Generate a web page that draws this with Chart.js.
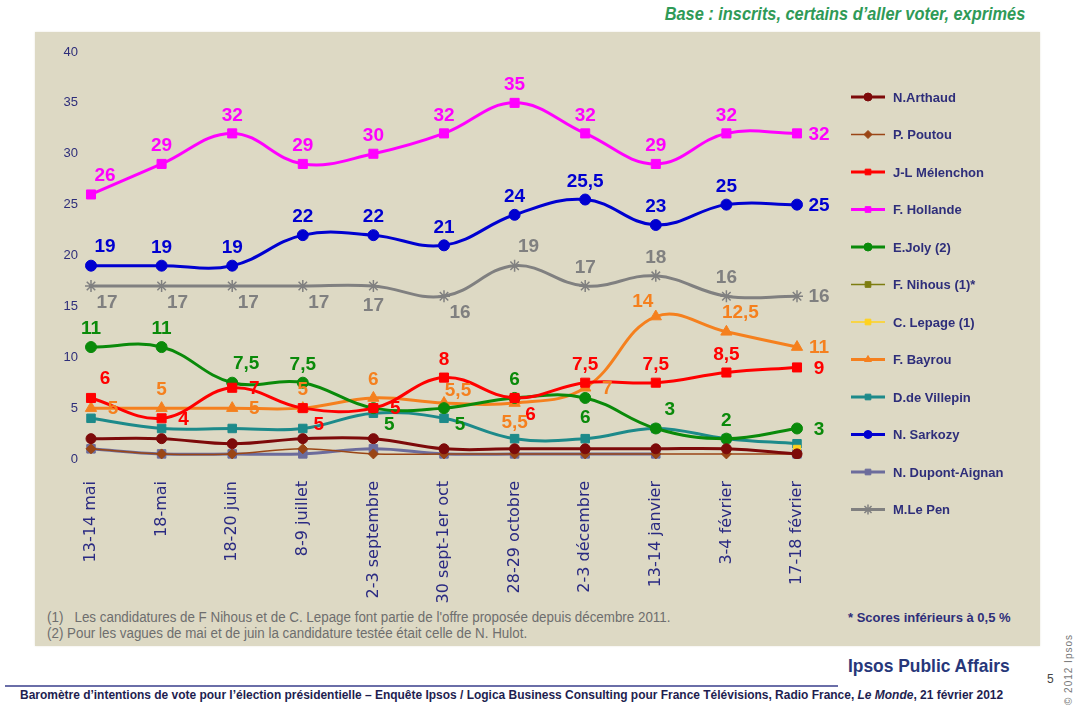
<!DOCTYPE html>
<html>
<head>
<meta charset="utf-8">
<script src="https://cdn.jsdelivr.net/npm/chart.js@4.4.1/dist/chart.umd.min.js"></script>
<style>
  body { margin:0; width:1079px; height:725px; overflow:hidden; background:#fff; font-family:"Liberation Sans", Arial, sans-serif; }
  #panel { position:absolute; left:35px; top:32px; width:1005px; height:614px; background:#ddd9c4; box-shadow:0 0 2px #e8e6dc; }
  #wrap { position:absolute; left:0; top:0; width:1079px; height:725px; }
  .abs { position:absolute; white-space:nowrap; }
  #base { right:54px; top:3px; color:#2f9a57; font:italic bold 19px "Liberation Sans",sans-serif; transform:scaleX(0.86); transform-origin:right center; }
  .note { left:47px; color:#6e6e6e; font:14px "Liberation Sans",sans-serif; transform:scaleX(0.955); transform-origin:left center; }
  #scores { left:848px; top:610px; color:#2e2e7a; font:bold 13px "Liberation Sans",sans-serif; }
  #ipsos { left:848px; top:655px; color:#27377a; font:bold 19px "Liberation Sans",sans-serif; transform:scaleX(0.915); transform-origin:left center; }
  #rule { left:5px; top:685px; width:833px; height:2px; background:#6a6ea8; }
  #foot { left:20px; top:688px; color:#1e1e50; font:bold 12.5px "Liberation Sans",sans-serif; transform:scaleX(0.957); transform-origin:left center; }
  #page { left:1047px; top:672px; color:#444; font:12px "Liberation Sans",sans-serif; }
  #copy { left:1030px; top:664px; color:#777; font:10px "Liberation Sans",sans-serif; letter-spacing:1px; transform:rotate(-90deg); transform-origin:center; width:76px; text-align:center; }
</style>
</head>
<body>
<div id="panel"></div>
<div class="abs" id="base">Base : inscrits, certains d’aller voter, exprimés</div>
<div class="abs note" style="top:609px">(1)&nbsp;&nbsp; Les candidatures de F Nihous et de C. Lepage font partie de l'offre proposée depuis décembre 2011.</div>
<div class="abs note" style="top:625px">(2) Pour les vagues de mai et de juin la candidature testée était celle de N. Hulot.</div>
<div class="abs" id="scores">* Scores inférieurs à 0,5 %</div>
<div class="abs" id="ipsos">Ipsos Public Affairs</div>
<div class="abs" id="rule"></div>
<div class="abs" id="foot">Baromètre d’intentions de vote pour l’élection présidentielle – Enquête Ipsos / Logica Business Consulting pour France Télévisions, Radio France, <i>Le Monde</i>, 21 février 2012</div>
<div class="abs" id="page">5</div>
<div class="abs" id="copy">© 2012 Ipsos</div>
<div id="wrap"><canvas id="chart" width="1079" height="725"></canvas></div>
<script>
const categories = ['13-14 mai','18-mai','18-20 juin','8-9 juillet','2-3 septembre','30 sept-1er oct','28-29 octobre','2-3 décembre','13-14 janvier','3-4 février','17-18 février']
const yTicks = [0,5,10,15,20,25,30,35,40]

const arthaud = [2,2,1.5,2,2,1,1,1,1,1,0.5]
const poutou = [1,0.5,0.5,1,0.5,0.5,0.5,0.5,0.5,0.5,0.5]
const melenchon = [6,4,7,5,5,8,6,7.5,7.5,8.5,9]
const hollande = [26,29,32,29,30,32,35,32,29,32,32]
const joly = [11,11,7.5,7.5,5,5,6,6,3,2,3]
const nihous = [null,null,null,null,null,null,null,null,null,null,0.5]
const lepage = [null,null,null,null,null,null,null,null,null,null,1]
const bayrou = [5,5,5,5,6,5.5,5.5,7,14,12.5,11]
const villepin = [4,3,3,3,4.5,4,2,2,3,2,1.5]
const sarkozy = [19,19,19,22,22,21,24,25.5,23,25,25]
const dupont = [1,0.5,0.5,0.5,1,0.5,0.5,0.5,0.5,null,0.5]
const lepen = [17,17,17,17,17,16,19,17,18,16,16]

// where each value label sits next to its point
const hollandePos = ['ar','a','a','a','a','a','a','a','a','a','r']
const sarkozyPos = ['ar','a','a','a','a','a','a','a','a','a','r']
const lepenPos = ['br','br','br','br','b','br','ar','a','a','a','r']
const jolyPos = ['a','a','ar','a','br','br','a','b','ar','a','r']
const melenchonPos = ['ar','r','r','br','r','a','br','a','a','a','r']
const bayrouPos = ['r','a','r','a','a','nr','b','r','al','ar','r']

function serie(label, data, color, style, radius, width, pos){
    return {
        label:label, data:data,
        borderColor:color, backgroundColor:color,
        pointBackgroundColor:color, pointBorderColor:color,
        pointStyle:style, pointRadius:radius, pointBorderWidth:style==='star'?1.5:1,
        borderWidth:width, tension:0.4, spanGaps:false,
        labelPos:pos
    }
}

const datasets = [
    serie('N.Arthaud', arthaud, '#7d0a0a', 'circle', 5, 3),
    serie('P. Poutou', poutou, '#9a4616', 'rectRot', 5, 1.5),
    serie('J-L Mélenchon', melenchon, '#ff0000', 'rect', 6.4, 3, melenchonPos),
    serie('F. Hollande', hollande, '#ff00ff', 'rect', 6.4, 3, hollandePos),
    serie('E.Joly (2)', joly, '#0a8a0a', 'circle', 5.5, 3, jolyPos),
    serie('F. Nihous (1)*', nihous, '#7d7d10', 'rect', 5, 1.5),
    serie('C. Lepage (1)', lepage, '#ffd21e', 'rect', 5, 1.5),
    serie('F. Bayrou', bayrou, '#f5801e', 'triangle', 6.5, 3, bayrouPos),
    serie('D.de Villepin', villepin, '#1d8a8a', 'rect', 6, 3),
    serie('N. Sarkozy', sarkozy, '#0000d0', 'circle', 5.5, 3, sarkozyPos),
    serie('N. Dupont-Aignan', dupont, '#6c6c9c', 'rect', 6, 3),
    serie('M.Le Pen', lepen, '#808080', 'star', 6, 3, lepenPos)
]

const offsets = { a:[0,-18], ar:[14,-19], al:[-13,-15], nr:[14,-12], b:[0,20], br:[16,17], r:[22,1] }

const valueLabels = {
    id:'valueLabels',
    afterDatasetsDraw(chart){
        const ctx = chart.ctx
        ctx.save()
        ctx.font = 'bold 19px "Liberation Sans", Arial, sans-serif'
        ctx.textAlign = 'center'
        ctx.textBaseline = 'middle'
        chart.data.datasets.forEach((ds, i) => {
            if(!ds.labelPos) return
            const meta = chart.getDatasetMeta(i)
            meta.data.forEach((pt, j) => {
                if(ds.data[j] == null) return
                const o = offsets[ds.labelPos[j]]
                ctx.fillStyle = ds.borderColor
                ctx.fillText(String(ds.data[j]).replace('.', ','), pt.x + o[0], pt.y + o[1])
            })
        })
        ctx.restore()
    }
}

const sideLegend = {
    id:'sideLegend',
    afterDraw(chart){
        const ctx = chart.ctx
        chart.data.datasets.forEach((ds, i) => {
            const y = 97 + i * 37.5
            ctx.save()
            ctx.strokeStyle = ds.borderColor
            ctx.lineWidth = ds.borderWidth
            ctx.beginPath(); ctx.moveTo(851, y); ctx.lineTo(885, y); ctx.stroke()
            ctx.fillStyle = ds.backgroundColor
            ctx.lineWidth = ds.pointStyle==='star' ? 1.5 : 1
            Chart.helpers.drawPoint(ctx, {pointStyle:ds.pointStyle, radius:ds.pointStyle==='star'?5:4, rotation:0, borderWidth:ctx.lineWidth}, 868, y)
            ctx.fillStyle = '#2e2e7a'
            ctx.font = 'bold 13px "Liberation Sans", Arial, sans-serif'
            ctx.textAlign = 'left'
            ctx.textBaseline = 'middle'
            ctx.fillText(ds.label, 893, y + 1)
            ctx.restore()
        })
    }
}

new Chart(document.getElementById('chart'), {
    type:'line',
    data:{ labels:categories, datasets:datasets },
    plugins:[valueLabels, sideLegend],
    options:{
        responsive:false,
        animation:false,
        layout:{ padding:{ left:0, right:282, top:52, bottom:0 } },
        plugins:{ legend:{ display:false }, tooltip:{ enabled:false } },
        scales:{
            x:{
                offset:false,
                grid:{ display:false, drawTicks:false },
                border:{ display:false },
                afterFit:(s) => { s.height = 266 },
                ticks:{
                    autoSkip:false, minRotation:90, maxRotation:90, padding:22,
                    color:'#2a2a82', font:{ family:'DejaVu Sans', size:16 }
                }
            },
            y:{
                min:0, max:40,
                afterFit:(s) => { s.width = 91 },
                afterBuildTicks:(s) => { s.ticks = yTicks.map(v => ({ value:v })) },
                grid:{ display:false, drawTicks:false },
                border:{ display:false },
                ticks:{ padding:13, color:'#2e2e7a', font:{ family:'Liberation Sans', size:13 } }
            }
        }
    }
})
</script>
</body>
</html>
